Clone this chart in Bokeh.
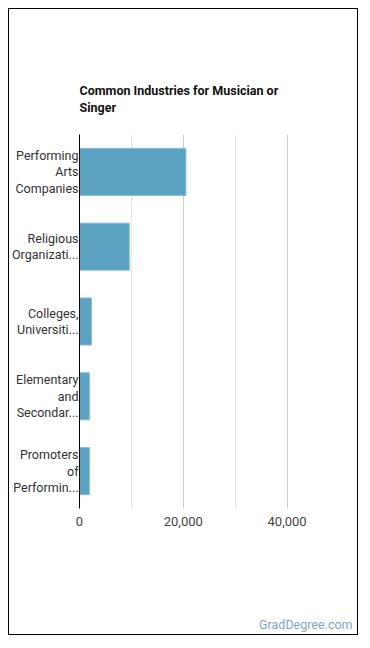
from bokeh.plotting import figure
from bokeh.models import FactorRange, FixedTicker, LinearAxis, NumeralTickFormatter
from bokeh.embed import file_html
from bokeh.resources import INLINE

industries = [
    "Performing\nArts\nCompanies",
    "Religious\nOrganizati...",
    "Colleges,\nUniversiti...",
    "Elementary\nand\nSecondar...",
    "Promoters\nof\nPerformin...",
]
workers = [20500, 9600, 2300, 1900, 1900]
x_ticks = [0, 20000, 40000]
x_minor = [10000, 30000]

FONT = "Roboto"
CREDIT_AT = 43600  # x value under the centre of the site credit

p = figure(
    width=350, height=627,
    y_range=FactorRange(*reversed(industries), range_padding=0),
    x_range=(0, 52600),
    output_backend="svg", toolbar_location=None,
    min_border_left=68, min_border_right=7,
    min_border_top=125, min_border_bottom=128,
)
p.outline_line_color = None
# card border around the whole chart
p.styles = {"border": "1px solid #000000", "margin": "8px 0px 0px 8px"}

p.title.text = "Common Industries for Musician or\nSinger"
p.title.align = "left"
p.title.text_font = FONT
p.title.text_font_style = "bold"
p.title.text_font_size = "12.5px"
p.title.text_color = "#111111"
p.title.text_line_height = 1.1
p.title.standoff = 40

p.hbar(y=industries, right=workers, height=0.63,
       fill_color="#5ba2c2", line_color="#86bdd5", line_width=1)

xa = p.xaxis[0]
xa.ticker = FixedTicker(ticks=x_ticks, minor_ticks=x_minor)
xa.formatter = NumeralTickFormatter(format="0,0")
xa.axis_line_color = None
xa.major_tick_line_color = None
xa.minor_tick_line_color = None
xa.major_tick_out = 0
xa.major_tick_in = 0
xa.minor_tick_out = 0
xa.major_label_text_font = FONT
xa.major_label_text_font_size = "13px"
xa.major_label_text_color = "#444444"
xa.major_label_standoff = 8

ya = p.yaxis[0]
ya.axis_line_color = "#000000"
ya.axis_line_width = 1
ya.major_tick_line_color = None
ya.minor_tick_line_color = None
ya.major_tick_out = 0
ya.major_tick_in = 0
ya.minor_tick_out = 0
ya.major_label_text_font = FONT
ya.major_label_text_font_size = "12.5px"
ya.major_label_text_line_height = 1.1
ya.major_label_text_color = "#333333"
ya.major_label_standoff = 1

p.xgrid.grid_line_color = "#cccccc"
p.xgrid.minor_grid_line_color = "#e4e4e4"
p.ygrid.grid_line_color = None

# site credit in the bottom right corner
credit = LinearAxis(ticker=FixedTicker(ticks=[CREDIT_AT]),
                    major_label_overrides={CREDIT_AT: "GradDegree.com"},
                    axis_line_color=None, major_tick_line_color=None,
                    minor_tick_line_color=None, major_tick_out=0, major_tick_in=0,
                    minor_tick_out=0, major_label_standoff=88,
                    major_label_text_font=FONT, major_label_text_font_size="12.5px",
                    major_label_text_color="#7ea7bd")
p.add_layout(credit, "below")

open("out.html", "w").write(file_html(p, INLINE))
